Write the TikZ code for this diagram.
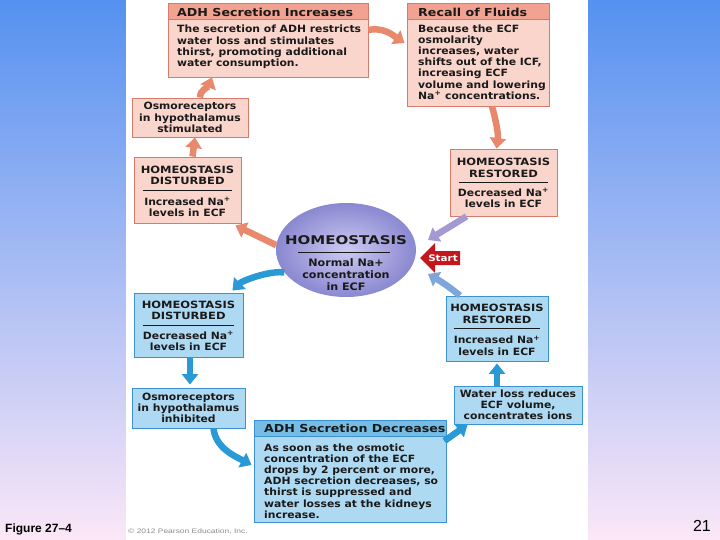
\documentclass[tikz,border=0pt]{standalone}
\usepackage{fontspec}
\setmainfont{DejaVu Sans}
\newfontfamily\fbody[FakeStretch=1.08]{DejaVu Sans}
\newfontfamily\fhead[FakeStretch=1.15]{DejaVu Sans}
\newfontfamily\fbig[FakeStretch=1.25]{DejaVu Sans}
\newfontfamily\flib{Liberation Sans}
\newfontfamily\fwide[FakeStretch=1.3]{Liberation Sans}
\usetikzlibrary{arrows.meta,shapes.geometric}
\definecolor{pbody}{HTML}{FAD5CC}
\definecolor{phd}{HTML}{F2A291}
\definecolor{pline}{HTML}{D97B6B}
\definecolor{bbody}{HTML}{AED9F2}
\definecolor{bhd}{HTML}{76BDE6}
\definecolor{bline}{HTML}{3C92D0}
\definecolor{parr}{HTML}{E8896D}
\definecolor{barr}{HTML}{2A9AD6}
\definecolor{purarr}{HTML}{A599D2}
\definecolor{bluepur}{HTML}{7FA6DA}
\definecolor{elin}{HTML}{CDCAF2}
\definecolor{elout}{HTML}{8A88D0}
\definecolor{ink}{HTML}{1A1A1A}
\definecolor{startred}{HTML}{C3161D}
\definecolor{bgtop}{HTML}{5591F0}
\definecolor{bgmid}{HTML}{9FC3F5}
\definecolor{bgbot}{HTML}{FBE7F7}
\tikzset{
  box/.style={inner sep=0pt, line width=0.9pt, anchor=center},
  pbox/.style={box, draw=pline, fill=pbody},
  bbox/.style={box, draw=bline, fill=bbody},
  phead/.style={inner sep=0pt, draw=pline, fill=phd, line width=0.9pt, anchor=north west, minimum height=16},
  bhead/.style={inner sep=0pt, draw=bline, fill=bhd, line width=0.9pt, anchor=north west, minimum height=16},
  tbody/.style={inner sep=0pt, text=ink, font=\fbody\bfseries\fontsize{10}{11.2}\selectfont},
  thead/.style={inner sep=0pt, text=ink, font=\fhead\bfseries\fontsize{11}{12}\selectfont},
  tcap/.style={inner sep=0pt, text=ink, align=center, font=\fhead\bfseries\fontsize{10}{11.5}\selectfont},
  sepline/.style={line width=0.7pt, draw=ink},
  fat/.style={line width=6.5pt, -{Triangle[width=16pt,length=10.5pt]}},
  parrow/.style={fat, draw=parr},
  barrow/.style={fat, draw=barr},
}
\begin{document}
\begin{tikzpicture}[x=1pt,y=-1pt]
\useasboundingbox (0,0) rectangle (720,540);
% background
\shade[top color=bgtop, middle color=bgmid, bottom color=bgbot] (0,0) rectangle (720,540);
\fill[white] (126,0) rectangle (588,540);

% ADH secretion increases
\node[pbox, minimum width=200, minimum height=74] (adhinc) at (268,40) {};
\node[phead, minimum width=200] (adhinch) at (adhinc.north west) {};
\node[thead, anchor=west] (adhinctitle) at (177,12) {ADH Secretion Increases};
\node[tbody, anchor=west, align=left] (adhinctext) at (177,47) {The secretion of ADH restricts\\water loss and stimulates\\thirst, promoting additional\\water consumption.};

% Recall of fluids
\node[pbox, minimum width=142, minimum height=103] (recall) at (478,54.5) {};
\node[phead, minimum width=142] (recallh) at (recall.north west) {};
\node[thead, anchor=west] (recalltitle) at (418,12) {Recall of Fluids};
\node[tbody, anchor=west, align=left] (recalltext) at (418,62) {Because the ECF\\osmolarity\\increases, water\\shifts out of the ICF,\\increasing ECF\\volume and lowering\\Na\textsuperscript{+} concentrations.};

% Osmoreceptors stimulated
\node[pbox, tbody, align=center, minimum width=116, minimum height=39] (osmostim) at (190,117.5) {Osmoreceptors\\in hypothalamus\\stimulated};

% Homeostasis disturbed (increased)
\node[pbox, minimum width=107, minimum height=66] (hdi) at (187.5,190) {};
\node[tcap] (hditop) at (187.5,175.5) {HOMEOSTASIS\\DISTURBED};
\draw[sepline] ([xshift=9]hdi.west) -- ([xshift=-9]hdi.east);
\node[tbody, align=center] (hdibody) at (187.5,207) {Increased Na\textsuperscript{+}\\levels in ECF};

% Homeostasis restored (decreased)
\node[pbox, minimum width=107, minimum height=67] (hrd) at (503.5,182.5) {};
\node[tcap] (hrdtop) at (503.5,168) {HOMEOSTASIS\\RESTORED};
\draw[sepline] ([xshift=9]hrd.west) -- ([xshift=-9]hrd.east);
\node[tbody, align=center] (hrdbody) at (503.5,198) {Decreased Na\textsuperscript{+}\\levels in ECF};

% Homeostasis disturbed (decreased)
\node[bbox, minimum width=109, minimum height=64] (bdi) at (188.5,325) {};
\node[tcap] (bditop) at (188.5,310.5) {HOMEOSTASIS\\DISTURBED};
\draw[sepline] ([xshift=9]bdi.west) -- ([xshift=-9]bdi.east);
\node[tbody, align=center] (bdibody) at (188.5,341) {Decreased Na\textsuperscript{+}\\levels in ECF};

% Homeostasis restored (increased)
\node[bbox, minimum width=102, minimum height=65] (hrb) at (497,328.5) {};
\node[tcap] (hrbtop) at (497,314) {HOMEOSTASIS\\RESTORED};
\draw[sepline] ([xshift=8]hrb.west) -- ([xshift=-8]hrb.east);
\node[tbody, align=center] (hrbbody) at (497,345.5) {Increased Na\textsuperscript{+}\\levels in ECF};

% Osmoreceptors inhibited
\node[bbox, tbody, align=center, minimum width=113, minimum height=40] (osmoinh) at (188.5,408) {Osmoreceptors\\in hypothalamus\\inhibited};

% Water loss
\node[bbox, tbody, align=center, minimum width=128, minimum height=38] (water) at (518,405) {Water loss reduces\\ECF volume,\\concentrates ions};

% ADH secretion decreases
\node[bbox, minimum width=192, minimum height=102] (adhdec) at (350,471) {};
\node[bhead, minimum width=192] (adhdech) at (adhdec.north west) {};
\node[thead, anchor=west] (adhdectitle) at (264,428) {ADH Secretion Decreases};
\node[tbody, anchor=west, align=left] (adhdectext) at (264,481) {As soon as the osmotic\\concentration of the ECF\\drops by 2 percent or more,\\ADH secretion decreases, so\\thirst is suppressed and\\water losses at the kidneys\\increase.};

% central ellipse
\node[ellipse, inner sep=0pt, minimum width=140, minimum height=94, inner color=elin, outer color=elout] (homeo) at (346,250) {};
\node[inner sep=0pt, text=ink, font=\fbig\bfseries\fontsize{12}{13}\selectfont] (homeotitle) at (346,240) {HOMEOSTASIS};
\draw[sepline] ([shift={(-48,2)}]homeo.center) -- ([shift={(44,2)}]homeo.center);
\node[inner sep=0pt, text=ink, align=center, font=\fbody\bfseries\fontsize{10.3}{12}\selectfont] (homeobody) at (346,275) {Normal Na+\\concentration\\in ECF};

% Start arrow
\fill[startred] (460,251) -- (435,251) -- (435,243) -- (420,258) -- (435,273) -- (435,265) -- (460,265) -- cycle;
\node[inner sep=0pt, text=white, font=\fhead\bfseries\fontsize{9}{10}\selectfont] (start) at (443,258) {Start};

% connectors
\draw[parrow] ([xshift=10]osmostim.north) .. controls +(0,-8) and +(-4,10) .. ([xshift=-56]adhinc.south);
\draw[parrow] ([xshift=5]hdi.north) -- ([xshift=5]osmostim.south);
\draw[parrow] (homeo.176) -- ([shift={(-6,2)}]hdi.south east);
\draw[barrow] (homeo.200) .. controls +(-15,-2) and +(10,-10) .. ([shift={(-11,-2)}]bdi.north east);
\draw[parrow] ([shift={(0,-10)}]adhinc.east) .. controls +(15,-3) and +(-12,-8) .. ([shift={(-2,-11.5)}]recall.west);
\draw[parrow] ([xshift=14]recall.south) .. controls +(4,14) and +(2,-14) .. ([xshift=-7]hrd.north);
\draw[fat, draw=purarr] ([xshift=-37]hrd.south) -- ([shift={(82,-10)}]homeo.center);
\draw[fat, draw=bluepur] ([xshift=-37]hrb.north) .. controls +(-10,-8) and +(14,8) .. ([shift={(82,24)}]homeo.center);
\draw[barrow] ([xshift=1.5]bdi.south) -- ([shift={(1.5,-3)}]osmoinh.north);
\draw[barrow] ([xshift=25]osmoinh.south) .. controls +(2,20) and +(-15,-8) .. ([shift={(-2,-6)}]adhdec.west);
\draw[barrow] ([shift={(-2,-30)}]adhdec.east) -- ([xshift=14]water.south west);
\draw[barrow] ([xshift=-21]water.north) -- ([shift={(0,2)}]hrb.south);

% footer
\node[inner sep=0pt, anchor=west, font=\flib\bfseries\fontsize{12}{13}\selectfont] (figlabel) at (5,529) {Figure 27–4};
\node[inner sep=0pt, anchor=west, text=black!45, font=\fwide\fontsize{6.5}{7}\selectfont] (copyright) at (128,532) {© 2012 Pearson Education, Inc.};
\node[inner sep=0pt, anchor=east, font=\flib\fontsize{16}{17}\selectfont] (pagenum) at (711,526) {21};
\end{tikzpicture}
\end{document}
